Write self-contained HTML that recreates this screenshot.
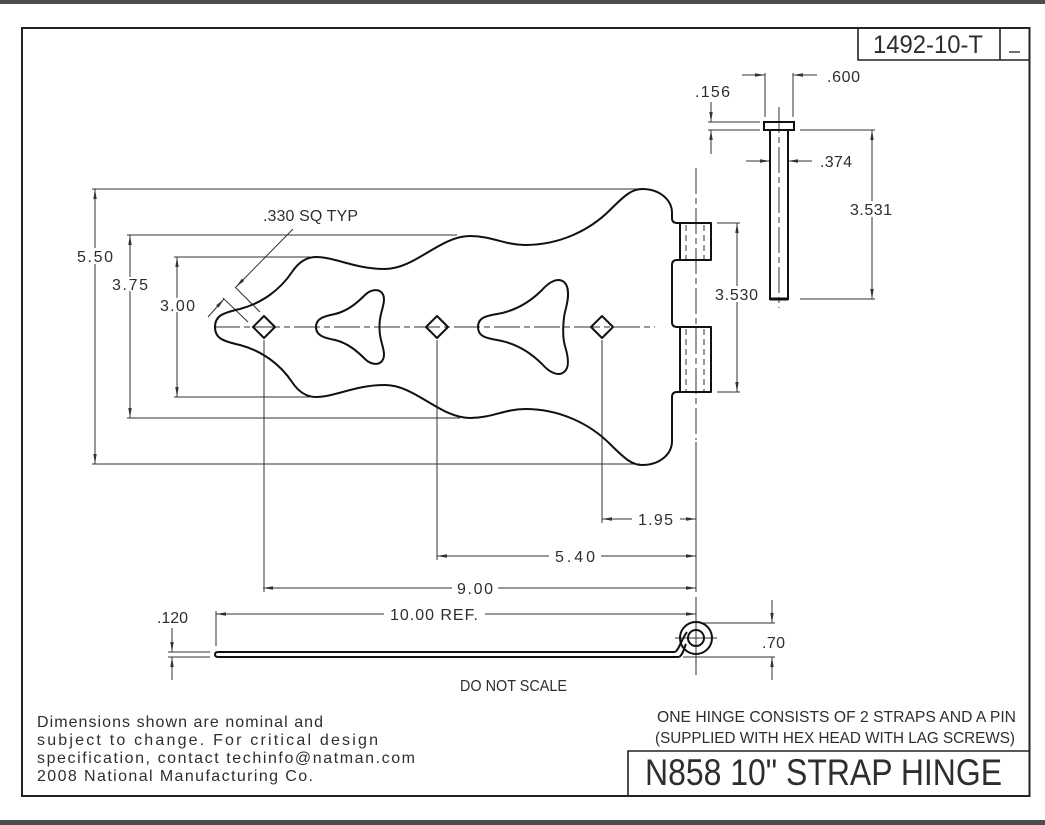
<!DOCTYPE html>
<html>
<head>
<meta charset="utf-8">
<style>
html,body{margin:0;padding:0;background:#fff;}
svg{display:block;}
text{font-family:"Liberation Sans",sans-serif;fill:#2e2e2e;}
</style>
</head>
<body>
<svg width="1045" height="825" viewBox="0 0 1045 825" xmlns="http://www.w3.org/2000/svg">
<defs>
<marker id="a" viewBox="0 0 10 4" refX="10" refY="2" markerWidth="10" markerHeight="4" markerUnits="userSpaceOnUse" orient="auto">
<path d="M0,0.3 L10,2 L0,3.7 z" fill="#333"/>
</marker>
</defs>

<!-- bars -->
<rect x="0" y="0" width="1045" height="4" fill="#4a4e52"/>
<rect x="0" y="820" width="1045" height="5" fill="#4a4e52"/>

<!-- frame -->
<rect x="22" y="28" width="1007.5" height="768" fill="none" stroke="#222" stroke-width="2"/>
<!-- top right title box -->
<path d="M858,28 L858,60 L1030,60 M1000,28 L1000,60" fill="none" stroke="#222" stroke-width="1.6"/>
<text x="873" y="53" font-size="25" textLength="110" lengthAdjust="spacingAndGlyphs">1492-10-T</text>
<line x1="1009" y1="52" x2="1020" y2="52" stroke="#333" stroke-width="1.4"/>
<!-- bottom title box -->
<path d="M628,796 L628,751 L1030,751" fill="none" stroke="#222" stroke-width="1.6"/>
<text x="645" y="785" font-size="37" textLength="357" lengthAdjust="spacingAndGlyphs">N858 10" STRAP HINGE</text>
<text x="657" y="722" font-size="15.5" textLength="359" lengthAdjust="spacingAndGlyphs">ONE HINGE CONSISTS OF 2 STRAPS AND A PIN</text>
<text x="655" y="743" font-size="15.5" textLength="360" lengthAdjust="spacingAndGlyphs">(SUPPLIED WITH HEX HEAD WITH LAG SCREWS)</text>

<!-- notes -->
<text x="37" y="727" font-size="16" textLength="286" lengthAdjust="spacing">Dimensions shown are nominal and</text>
<text x="37" y="745" font-size="16" textLength="341" lengthAdjust="spacing">subject to change. For critical design</text>
<text x="37" y="763" font-size="16" textLength="378" lengthAdjust="spacing">specification, contact techinfo@natman.com</text>
<text x="37" y="781" font-size="16" textLength="276" lengthAdjust="spacing">2008 National Manufacturing Co.</text>

<text x="460" y="691" font-size="16" textLength="107" lengthAdjust="spacingAndGlyphs">DO NOT SCALE</text>

<!-- ===== extension lines ===== -->
<g stroke="#333" stroke-width="1" fill="none">
<line x1="92" y1="189" x2="640" y2="189"/>
<line x1="92" y1="464" x2="640" y2="464"/>
<line x1="127" y1="235" x2="457" y2="235"/>
<line x1="127" y1="418" x2="460" y2="418"/>
<line x1="174" y1="257" x2="310" y2="257"/>
<line x1="174" y1="397" x2="310" y2="397"/>
<line x1="264" y1="340" x2="264" y2="592"/>
<line x1="437" y1="340" x2="437" y2="560"/>
<line x1="602" y1="340" x2="602" y2="523"/>
<line x1="696" y1="442" x2="696" y2="592"/>
<line x1="696" y1="597" x2="696" y2="675"/>
<line x1="675" y1="638" x2="717" y2="638"/>
<line x1="216" y1="611" x2="216" y2="646"/>
<line x1="708" y1="122" x2="760" y2="122"/>
<line x1="708" y1="130" x2="760" y2="130"/>
<line x1="765" y1="73" x2="765" y2="117"/>
<line x1="793" y1="73" x2="793" y2="117"/>
<line x1="800" y1="130" x2="875" y2="130"/>
<line x1="800" y1="299" x2="875" y2="299"/>
<line x1="717" y1="223" x2="740" y2="223"/>
<line x1="717" y1="392" x2="740" y2="392"/>
<line x1="700" y1="623" x2="775" y2="623"/>
<line x1="683" y1="657" x2="775" y2="657"/>
<line x1="168" y1="652" x2="210" y2="652"/>
<line x1="168" y1="657" x2="210" y2="657"/>
<line x1="235" y1="287" x2="260" y2="312"/>
<line x1="223" y1="298" x2="248" y2="322"/>
</g>

<!-- ===== center lines ===== -->
<g stroke="#333" stroke-width="1" fill="none" stroke-dasharray="26 4 6 4">
<line x1="214" y1="327" x2="655" y2="327"/>
<line x1="696" y1="168" x2="696" y2="440"/>
<line x1="779" y1="107" x2="779" y2="308"/>
</g>

<!-- ===== dimension lines with arrows ===== -->
<g stroke="#333" stroke-width="1" fill="none" marker-end="url(#a)">
<line x1="95" y1="248" x2="95" y2="189"/>
<line x1="95" y1="264" x2="95" y2="464"/>
<line x1="130" y1="277" x2="130" y2="235"/>
<line x1="130" y1="291" x2="130" y2="418"/>
<line x1="177" y1="298" x2="177" y2="257"/>
<line x1="177" y1="312" x2="177" y2="397"/>
<line x1="872" y1="201" x2="872" y2="130"/>
<line x1="872" y1="217" x2="872" y2="299"/>
<line x1="737" y1="286" x2="737" y2="223"/>
<line x1="737" y1="302" x2="737" y2="392"/>
<line x1="632" y1="519" x2="602" y2="519"/>
<line x1="680" y1="519" x2="696" y2="519"/>
<line x1="549" y1="556" x2="437" y2="556"/>
<line x1="601" y1="556" x2="696" y2="556"/>
<line x1="452" y1="588" x2="263" y2="588"/>
<line x1="498" y1="588" x2="696" y2="588"/>
<line x1="384" y1="614" x2="216" y2="614"/>
<line x1="485" y1="614" x2="696" y2="614"/>
<line x1="742" y1="75" x2="765" y2="75"/>
<line x1="817" y1="75" x2="793" y2="75"/>
<line x1="746" y1="161" x2="770" y2="161"/>
<line x1="812" y1="161" x2="788" y2="161"/>
<line x1="711" y1="102" x2="711" y2="122"/>
<line x1="711" y1="154" x2="711" y2="130"/>
<line x1="172" y1="628" x2="172" y2="652"/>
<line x1="172" y1="680" x2="172" y2="657"/>
<line x1="772" y1="600" x2="772" y2="623"/>
<line x1="772" y1="680" x2="772" y2="657"/>
<line x1="293" y1="229" x2="236" y2="287"/>
<line x1="208" y1="317" x2="224" y2="299"/>
</g>

<!-- ===== dimension texts ===== -->
<g font-size="16">
<text x="77" y="262" textLength="36" lengthAdjust="spacing">5.50</text>
<text x="112" y="290" textLength="36" lengthAdjust="spacing">3.75</text>
<text x="160" y="311" textLength="35" lengthAdjust="spacing">3.00</text>
<text x="263" y="221" textLength="95" lengthAdjust="spacing">.330 SQ TYP</text>
<text x="695" y="97" textLength="35" lengthAdjust="spacing">.156</text>
<text x="827" y="82" textLength="33" lengthAdjust="spacing">.600</text>
<text x="820" y="167" textLength="32" lengthAdjust="spacing">.374</text>
<text x="850" y="215" textLength="42" lengthAdjust="spacing">3.531</text>
<text x="715" y="300" textLength="43" lengthAdjust="spacing">3.530</text>
<text x="638" y="525" textLength="35" lengthAdjust="spacing">1.95</text>
<text x="555" y="562" textLength="40" lengthAdjust="spacing">5.40</text>
<text x="457" y="594" textLength="36" lengthAdjust="spacing">9.00</text>
<text x="390" y="620" textLength="88" lengthAdjust="spacing">10.00 REF.</text>
<text x="157" y="623" textLength="31" lengthAdjust="spacing">.120</text>
<text x="762" y="648" textLength="23" lengthAdjust="spacing">.70</text>
</g>

<!-- ===== strap outline ===== -->
<g stroke="#111" stroke-width="2" fill="none" stroke-linejoin="round">
<path d="M215,327
C215,316 222,313 240,309
C262,303 280,290 292,272
C298,263 306,257 316,257
C335,257 355,269 385,269
C415,269 440,236 470,236
C492,236 505,245 525,245
C560,245 590,230 610,210
C625,195 632,189 642,189
C660,189 672,200 672,213
L672,218 Q672,223 677,223 L680,223"/>
<path d="M215,327
C215,338 222,341 240,345
C262,351 280,364 292,382
C298,391 306,397 316,397
C335,397 355,385 385,385
C415,385 440,418 470,418
C492,418 505,409 525,409
C560,409 590,424 610,444
C625,459 632,465 642,465
C660,465 672,454 672,441
L672,397 Q672,392 677,392 L680,392"/>
<path d="M680,260 L677,260 Q672,260 672,265 L672,322 Q672,327 677,327 L680,327"/>
<!-- knuckles -->
<rect x="680" y="223" width="31" height="37"/>
<rect x="680" y="327" width="31" height="65"/>
<!-- triangle holes -->
<path d="M316,327
C316,318 325,316 335,314
C348,311 358,302 365,295
C370,290 378,288 382,293
C386,298 383,306 381,314
C379,322 379,332 381,340
C383,348 386,356 382,361
C378,366 370,364 365,359
C358,352 348,343 335,340
C325,338 316,336 316,327 Z"/>
<path d="M478,327
C478,318 485,316 497,314
C515,311 530,302 542,290
C549,282 558,277 564,282
C570,287 568,300 566,308
C563,318 562,336 565,346
C568,356 570,368 564,372
C558,377 549,372 542,364
C530,352 515,343 497,340
C485,338 478,336 478,327 Z"/>
<!-- diamonds -->
<path d="M253,327 L264,316 L275,327 L264,338 Z"/>
<path d="M426,327 L437,316 L448,327 L437,338 Z"/>
<path d="M591,327 L602,316 L613,327 L602,338 Z"/>
</g>

<!-- knuckle hidden lines -->
<g stroke="#333" stroke-width="1" stroke-dasharray="6 4" fill="none">
<line x1="686" y1="225" x2="686" y2="259"/>
<line x1="704" y1="225" x2="704" y2="259"/>
<line x1="686" y1="329" x2="686" y2="391"/>
<line x1="704" y1="329" x2="704" y2="391"/>
</g>

<!-- ===== pin ===== -->
<g stroke="#111" stroke-width="2" fill="none">
<rect x="764" y="122" width="30" height="8"/>
<path d="M770,130 L770,299 L788,299 L788,130"/>
<line x1="770" y1="299" x2="788" y2="299" stroke-width="3"/>
</g>

<!-- ===== side view ===== -->
<g stroke="#111" stroke-width="2" fill="none">
<path d="M675,652 L218,652 Q215,652 215,654.5 Q215,657 218,657 L679,657"/>
<path d="M675,652 C679,650 681,640 687,632"/>
<path d="M679,657 C683,655 684,648 686,644"/>
<circle cx="696" cy="638" r="16"/>
<circle cx="696" cy="638" r="8"/>
</g>
</svg>
</body>
</html>
